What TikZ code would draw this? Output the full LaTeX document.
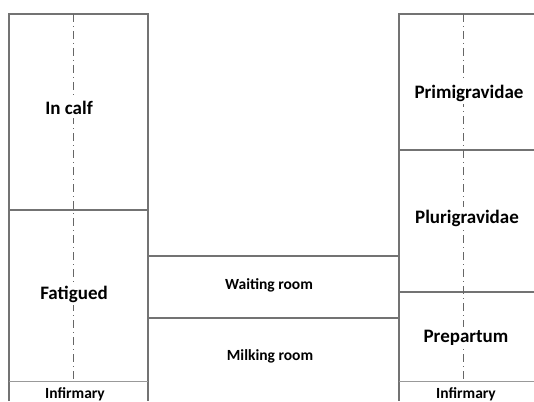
\documentclass[tikz,border=0pt]{standalone}
\usepackage{fontspec}
\setmainfont{Carlito}

\tikzset{
  wall/.style={draw=black!55,line width=1.1pt},
  thinwall/.style={draw=black!40,line width=.7pt},
  axis/.style={draw=black!60,line width=.9pt,dash pattern=on 8pt off 4pt on 1pt off 4pt},
  room/.style={font=\bfseries\fontsize{19}{20}\selectfont,fill=white,inner xsep=1pt,inner ysep=3pt},
  smallroom/.style={font=\bfseries\fontsize{15.5}{16}\selectfont,inner sep=0pt}
}

\begin{document}
\begin{tikzpicture}[x=1pt,y=-1pt]
\useasboundingbox (0,0) rectangle (534,401);
% left barn
\draw[wall] (9,401) -- (9,14) -- (148,14) -- (148,401);
\draw[wall] (9,210) -- (148,210);
\draw[thinwall] (9,381) -- (148,381);
\draw[axis] (73,14) -- (73,381);
% right barn
\draw[wall] (534,14) -- (399,14) -- (399,401);
\draw[wall] (399,150) -- (534,150);
\draw[wall] (399,292) -- (534,292);
\draw[thinwall] (399,381) -- (534,381);
\draw[axis] (463,14) -- (463,381);
% milking parlour
\draw[wall] (148,256) -- (399,256);
\draw[wall] (148,318) -- (399,318);
\node[room] (incalf) at (69,108) {In calf};
\node[room] (fatigued) at (74,294) {Fatigued};
\node[smallroom] (infleft) at (75,394) {Infirmary};
\node[room] (primi) at (469,93) {Primigravidae};
\node[room] (pluri) at (467,218) {Plurigravidae};
\node[room] (prepartum) at (466,338) {Prepartum};
\node[smallroom] (infright) at (466,394) {Infirmary};
\node[smallroom] (waiting) at (269,285) {Waiting room};
\node[smallroom] (milking) at (270,356) {Milking room};
\end{tikzpicture}
\end{document}
